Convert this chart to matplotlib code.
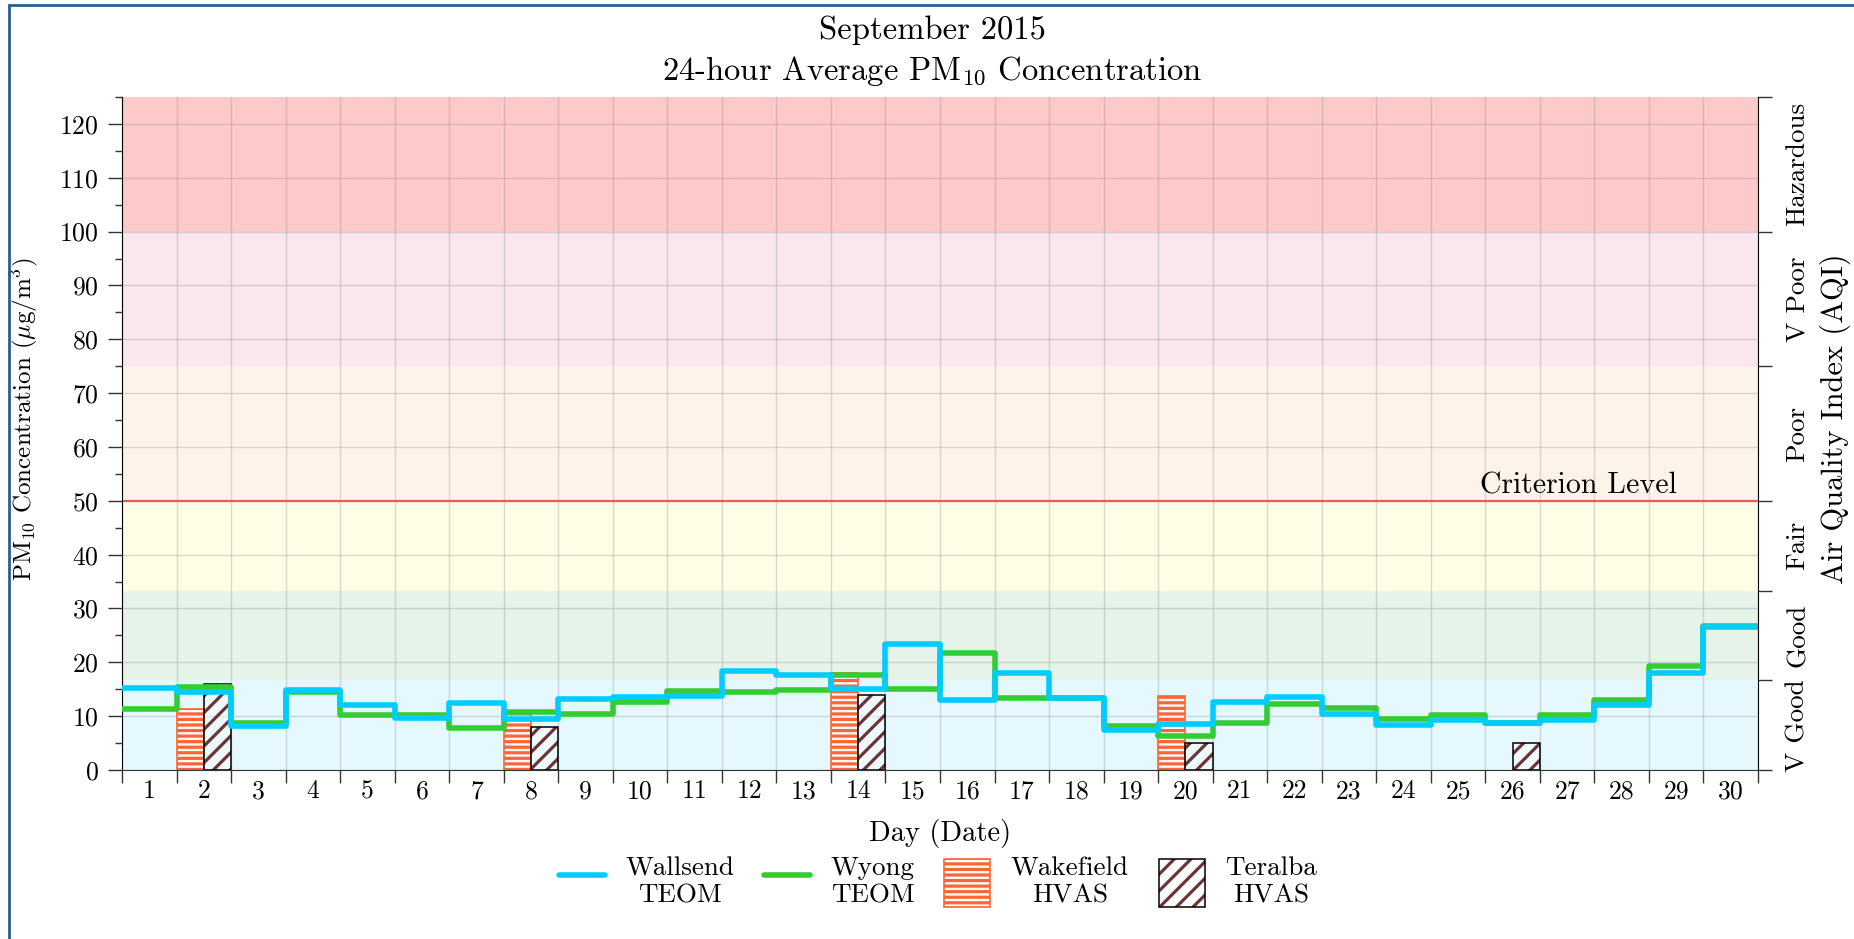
import numpy as np
import matplotlib
matplotlib.use("Agg")
import matplotlib.pyplot as plt
import matplotlib.patches as mpatches
from matplotlib.lines import Line2D
from matplotlib.legend_handler import HandlerTuple
from matplotlib.ticker import MultipleLocator, FixedLocator, NullFormatter, FixedFormatter

plt.rcParams['font.family'] = 'serif'
plt.rcParams['font.serif'] = ['cmr10', 'DejaVu Serif']
plt.rcParams['mathtext.fontset'] = 'cm'
plt.rcParams['axes.formatter.use_mathtext'] = True
plt.rcParams['hatch.linewidth'] = 2.3

# ---------------- data ----------------
days = list(range(1, 31))
wallsend = [15.2, 14.4, 8.2, 14.9, 12.1, 9.6, 12.4, 9.5, 13.2, 13.5,
            13.8, 18.3, 17.6, 15.0, 23.4, 13.0, 18.1, 13.3, 7.4, 8.5,
            12.6, 13.6, 10.4, 8.4, 9.2, 8.7, 9.3, 12.1, 18.1, 26.6]
wyong = [11.3, 15.5, 8.7, 14.4, 10.3, 10.3, 7.8, 10.7, 10.4, 12.6,
         14.7, 14.5, 14.9, 17.7, 15.0, 21.7, 13.4, 13.4, 8.2, 6.4,
         8.8, 12.3, 11.5, 9.4, 10.3, 8.8, 10.2, 13.0, 19.3, 26.7]
wakefield_days = [2, 8, 14, 20]
wakefield = [11.3, 10.4, 18.1, 13.8]
teralba_days = [2, 8, 14, 20, 26]
teralba = [16.0, 8.0, 14.0, 5.0, 5.0]

aqi_bounds = [0, 50 / 3, 100 / 3, 50, 75, 100, 125]
aqi_labels = ['V Good', 'Good', 'Fair', 'Poor', 'V Poor', 'Hazardous']
aqi_colors = ['#e4f8fd', '#e6f3e8', '#fefde6', '#fef3e9', '#f9e6ef', '#fdc9c9']
criterion = 50

W, H = 1854, 939
fig = plt.figure(figsize=(W / 100, H / 100), dpi=100)
ax = fig.add_axes([122 / W, 1 - 770 / H, (1758 - 122) / W, (770 - 97) / H])

FS_TICK = 18.5
FS_LEG = 19.5

# background bands
for lo, hi, c in zip(aqi_bounds[:-1], aqi_bounds[1:], aqi_colors):
    ax.axhspan(lo, hi, color=c, zorder=0, lw=0)

ax.set_xlim(0.5, 30.5)
ax.set_ylim(0, 125)
ax.set_axisbelow(True)

edges = np.arange(0.5, 31, 1.0)

# bars
wk_x = [d - 0.25 for d in wakefield_days]
ax.bar(wk_x, wakefield, width=0.5, facecolor=(1, 1, 1, 0.55), edgecolor='#ff6633',
       hatch='---', linewidth=1.2, zorder=2)
tr_x = [d + 0.25 for d in teralba_days]
ax.bar(tr_x, teralba, width=0.5, facecolor=(1, 1, 1, 0.4), edgecolor='#6b3535',
       hatch='//', linewidth=0, zorder=2)
ax.bar(tr_x, teralba, width=0.5, fill=False, edgecolor='black', linewidth=1.1, zorder=2.1)

# lines
ax.stairs(wyong, edges, baseline=None, color='#33cc33', lw=4, zorder=3, joinstyle='round')
ax.stairs(wallsend, edges, baseline=None, color='#00ccff', lw=4, zorder=4, joinstyle='round')

# criterion
ax.axhline(criterion, color='#ef5a5a', lw=1.6, zorder=1.5)
ax.text(27.2, criterion + 0.3, 'Criterion Level', ha='center', va='bottom', fontsize=21.5, zorder=5)

# axes ticks
ax.xaxis.set_major_locator(FixedLocator(edges))
ax.xaxis.set_major_formatter(NullFormatter())
ax.xaxis.set_minor_locator(FixedLocator(days))
ax.xaxis.set_minor_formatter(FixedFormatter([str(d) for d in days]))
ax.tick_params(axis='x', which='major', length=9, width=1, color='#333333', direction='out')
ax.tick_params(axis='x', which='minor', length=0, pad=7, labelsize=FS_TICK)

ax.yaxis.set_major_locator(MultipleLocator(10))
ax.yaxis.set_minor_locator(MultipleLocator(5))
ax.tick_params(axis='y', which='major', length=10, width=1, pad=7, labelsize=FS_TICK, color='#333333')
ax.tick_params(axis='y', which='minor', length=5, width=1, color='#333333')

ax.grid(True, which='major', color='#888888', alpha=0.3, lw=1)

for s in ['top', 'right']:
    ax.spines[s].set_visible(False)
ax.spines['left'].set_color('black')
ax.spines['bottom'].set_color('#333333')

ax.set_xlabel('Day (Date)', fontsize=20.5)
ax.xaxis.set_label_coords(0.5, -(819 - 770) / 673)
ax.set_ylabel(r'PM$_{10}$ Concentration ($\mu$g/m$^3$)', fontsize=18)
ax.yaxis.set_label_coords(-(122 - 40) / 1636, (770 - 419) / 673)

# right AQI axis
ax2 = ax.twinx()
ax2.set_ylim(0, 125)
ax2.yaxis.set_major_locator(FixedLocator(aqi_bounds))
ax2.yaxis.set_major_formatter(NullFormatter())
centers = [(a + b) / 2 for a, b in zip(aqi_bounds[:-1], aqi_bounds[1:])]
ax2.yaxis.set_minor_locator(FixedLocator(centers))
ax2.yaxis.set_minor_formatter(FixedFormatter(aqi_labels))
ax2.tick_params(axis='y', which='major', length=10, width=1, color='#333333')
ax2.tick_params(axis='y', which='minor', length=0, pad=20, labelsize=19.5)
for t in ax2.yaxis.get_minorticklabels():
    t.set_rotation(90)
    t.set_va('center')
for s in ['top', 'left', 'bottom']:
    ax2.spines[s].set_visible(False)
ax2.spines['right'].set_color('black')
ax2.set_ylabel('Air Quality Index (AQI)', fontsize=22)
ax2.yaxis.set_label_coords((1820 - 122) / 1636, (770 - 419) / 673)

# title
fig.text(932 / W, 1 - 30 / H, 'September 2015', ha='center', va='center', fontsize=23.5)
fig.text(932 / W, 1 - 71 / H, r'24-hour Average PM$_{10}$ Concentration', ha='center', va='center', fontsize=23.5)

# legend
h_wall = Line2D([], [], color='#00ccff', lw=4, solid_capstyle='round')
h_wy = Line2D([], [], color='#33cc33', lw=4, solid_capstyle='round')
h_wk = mpatches.Patch(facecolor='white', edgecolor='#ff6633', hatch='---', lw=1.2)
h_tr1 = mpatches.Patch(facecolor='white', edgecolor='#6b3535', hatch='//', lw=0)
h_tr2 = mpatches.Patch(fill=False, edgecolor='black', lw=1.1)
leg = fig.legend([h_wall, h_wy, h_wk, (h_tr1, h_tr2)],
                 ['Wallsend\nTEOM', 'Wyong\nTEOM', 'Wakefield\nHVAS', 'Teralba\nHVAS'],
                 loc='center', bbox_to_anchor=(938 / W, 1 - 882 / H), ncol=4, frameon=False,
                 fontsize=FS_LEG, handlelength=1.7, handleheight=2.35, handletextpad=0.75,
                 columnspacing=1.1, handler_map={tuple: HandlerTuple(ndivide=1)})
for t in leg.get_texts():
    t.set_multialignment('center')

# outer frame
fig.patches.append(mpatches.Rectangle((9 / W, -0.02), 1.02, 1 - 5 / H + 0.02, transform=fig.transFigure,
                                      fill=False, edgecolor='#2a5d8f', lw=2))

fig.savefig('out.png', dpi=100)
